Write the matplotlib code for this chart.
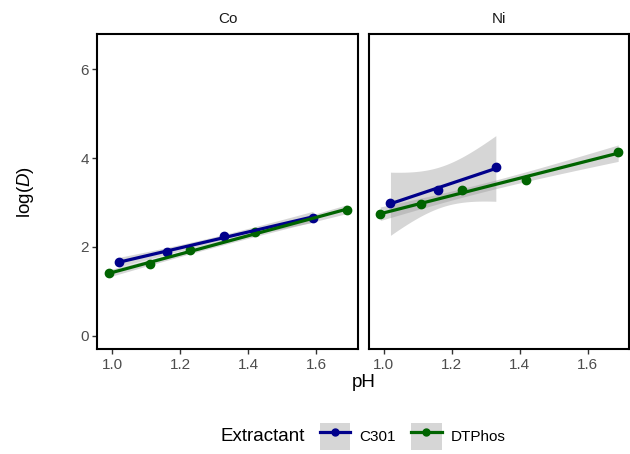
import numpy as np
import matplotlib
matplotlib.use("Agg")
import matplotlib.pyplot as plt
from matplotlib.lines import Line2D
from matplotlib.patches import Patch
from matplotlib.legend_handler import HandlerTuple

plt.rcParams['font.family'] = ['Liberation Sans', 'DejaVu Sans']
plt.rcParams['mathtext.fontset'] = 'custom'
plt.rcParams['mathtext.rm'] = 'Liberation Sans'
plt.rcParams['mathtext.it'] = 'Liberation Sans:italic'

#-----Data-----#
metals = ["Co", "Ni"]
extractants = ["C301", "DTPhos"]
colours = {"C301": "#00008B", "DTPhos": "#006400"}

ph_c301 = [1.02, 1.16, 1.33, 1.59]
ph_dtphos = [0.99, 1.11, 1.23, 1.42, 1.69]

co_c301 = [1.65, 1.89, 2.25, 2.66]
co_dtphos = [1.41, 1.61, 1.92, 2.33, 2.83]
ni_c301 = [3.00, 3.28, 3.79]          # no value at pH 1.59
ni_dtphos = [2.74, 2.97, 3.29, 3.50, 4.14]

data = {
    ("Co", "C301"): (ph_c301, co_c301),
    ("Co", "DTPhos"): (ph_dtphos, co_dtphos),
    ("Ni", "C301"): (ph_c301[:3], ni_c301),
    ("Ni", "DTPhos"): (ph_dtphos, ni_dtphos),
}

#two sided 95% student t quantiles
t975 = {1: 12.706, 2: 4.303, 3: 3.182, 4: 2.776, 5: 2.571, 6: 2.447}

#-----SideFunctions-----#

#Linear fit with 95% confidence band, like geom_smooth(method="lm")
def LinearFit(x, y):
    x = np.asarray(x, float)
    y = np.asarray(y, float)
    n = len(x)
    slope, icept = np.polyfit(x, y, 1)
    resid = y - (slope * x + icept)
    s = np.sqrt(np.sum(resid ** 2) / (n - 2))
    xs = np.linspace(x.min(), x.max(), 80)
    fit = slope * xs + icept
    se = s * np.sqrt(1 / n + (xs - x.mean()) ** 2 / np.sum((x - x.mean()) ** 2))
    half = t975[n - 2] * se
    return xs, fit, fit - half, fit + half

#--/--SideFunctions--/--#

fig = plt.figure(figsize=(6.3, 4.54), dpi=100)
axes = [fig.add_axes([0.1545, 0.2306, 0.4143, 0.6945]),
        fig.add_axes([0.5857, 0.2306, 0.4135, 0.6945])]

for ax, metal in zip(axes, metals):
    for ext in extractants:
        x, y = data[(metal, ext)]
        xs, fit, lo, hi = LinearFit(x, y)
        ax.fill_between(xs, lo, hi, color="#999999", alpha=0.4, lw=0, zorder=1)
        ax.plot(x, y, "o", color=colours[ext], ms=6, zorder=2)
        ax.plot(xs, fit, color=colours[ext], lw=2.3, zorder=3)
    ax.set_xlim(0.9568, 1.7233)
    ax.set_ylim(-0.306, 6.795)
    ax.set_xticks([1.0, 1.2, 1.4, 1.6])
    ax.set_yticks([0, 2, 4, 6])
    for sp in ax.spines.values():
        sp.set_linewidth(1.5)
        sp.set_color("black")
    ax.tick_params(direction="out", length=3.5, width=1.0, color="#333333",
                   labelsize=11, labelcolor="#4D4D4D", pad=2.5)
    ax.set_title(metal, fontsize=11, color="#1A1A1A", pad=8)

axes[1].tick_params(axis="y", left=False, labelleft=False)

fig.text(0.5770, 0.158, "pH", ha="center", va="center", fontsize=13.5)
fig.text(0.040, 0.578, r"log($\mathit{D}$)", ha="center", va="center",
         rotation=90, fontsize=13.5)

#-----Legend-----#
handles = []
for ext in extractants:
    key = Patch(facecolor="#999999", alpha=0.4, edgecolor="none")
    line = Line2D([], [], color=colours[ext], lw=2.3, marker="o", ms=5)
    handles.append((key, line))

fig.text(0.417, 0.038, "Extractant", ha="center", va="center", fontsize=13.5)
fig.legend(handles, extractants, handler_map={tuple: HandlerTuple(ndivide=1)},
           ncol=2, loc="center", bbox_to_anchor=(0.655, 0.038), frameon=False,
           fontsize=11, handlelength=2.0, handleheight=2.3, handletextpad=0.6,
           columnspacing=1.0, borderpad=0)

fig.savefig("out.png", dpi=100)
